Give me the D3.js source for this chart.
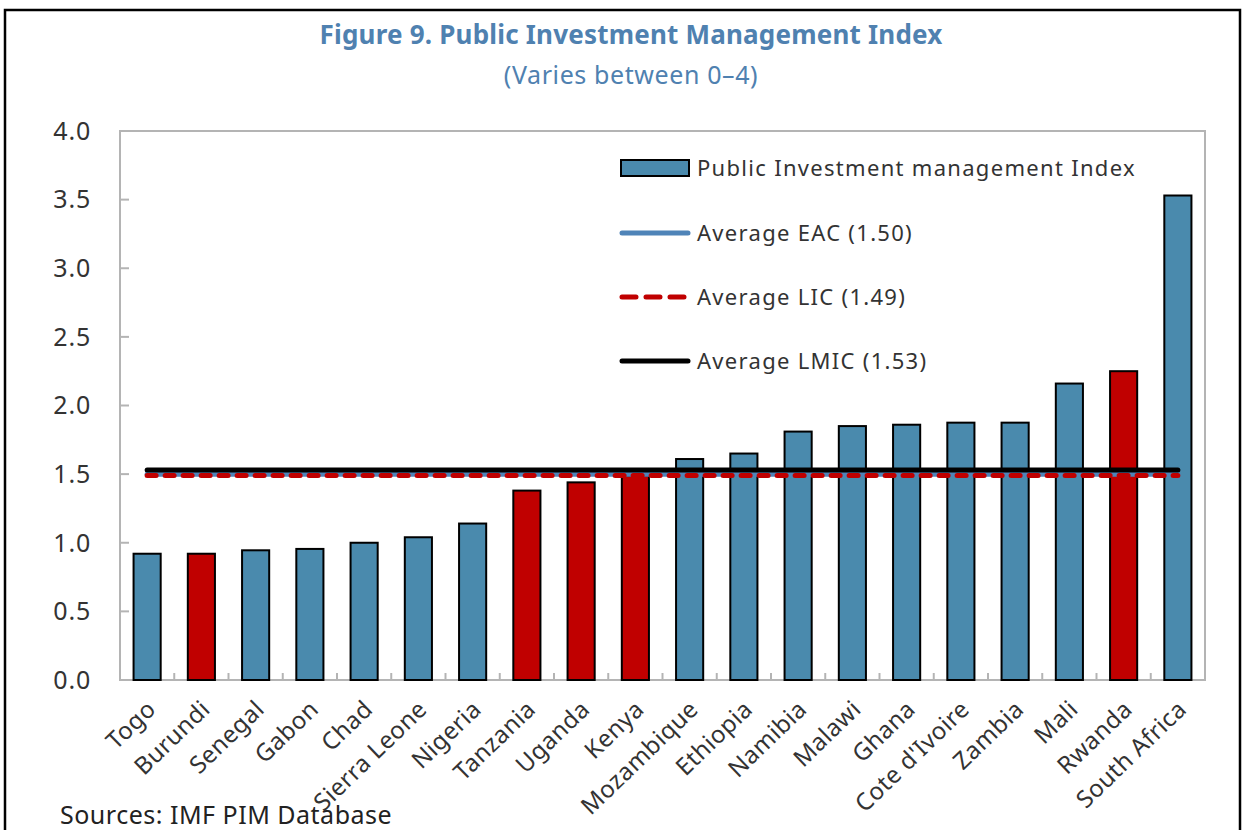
<!DOCTYPE html>
<html>
<head>
<meta charset="utf-8">
<script src="https://cdn.jsdelivr.net/npm/d3@7"></script>
<style>
  body { margin: 0; background: #fff; }
  svg { display: block; font-family: "Noto Sans", "Open Sans", sans-serif; }
</style>
</head>
<body>
<svg id="chart" width="1244" height="830"></svg>
<script>
const countries = ['Togo', 'Burundi', 'Senegal', 'Gabon', 'Chad', 'Sierra Leone', 'Nigeria',
  'Tanzania', 'Uganda', 'Kenya', 'Mozambique', 'Ethiopia', 'Namibia', 'Malawi', 'Ghana',
  "Cote d'Ivoire", 'Zambia', 'Mali', 'Rwanda', 'South Africa'];
const pimi = [0.92, 0.92, 0.945, 0.955, 1.0, 1.04, 1.14, 1.38, 1.44, 1.49, 1.61, 1.65,
  1.81, 1.85, 1.86, 1.875, 1.875, 2.16, 2.25, 3.53];
// EAC members are drawn in red
const eac = ['Burundi', 'Tanzania', 'Uganda', 'Kenya', 'Rwanda'];
const averages = [
  {name: 'Average EAC (1.50)', value: 1.50},
  {name: 'Average LIC (1.49)', value: 1.49},
  {name: 'Average LMIC (1.53)', value: 1.53},
];
const yTicks = [0, 0.5, 1, 1.5, 2, 2.5, 3, 3.5, 4];

const blue = '#4a8aad';
const red = '#c00000';
const titleBlue = '#4f81b0';

const svg = d3.select('#chart');
const plotLeft = 120, plotRight = 1205, plotTop = 131, plotBottom = 680;

// outer frame
svg.append('path')
  .attr('d', 'M5,832 V10 H1240 V832')
  .attr('fill', 'none')
  .attr('stroke', '#000')
  .attr('stroke-width', 2.5);

svg.append('text')
  .attr('x', 631).attr('y', 44)
  .attr('text-anchor', 'middle')
  .attr('font-size', 26).attr('font-weight', 'bold')
  .attr('letter-spacing', 0.2)
  .attr('fill', titleBlue)
  .text('Figure 9. Public Investment Management Index');

svg.append('text')
  .attr('x', 631).attr('y', 84)
  .attr('text-anchor', 'middle')
  .attr('font-size', 25)
  .attr('letter-spacing', 0.6)
  .attr('fill', titleBlue)
  .text('(Varies between 0\u20134)');

const x = d3.scaleBand().domain(countries).range([plotLeft, plotRight])
  .paddingInner(0.5).paddingOuter(0.25);
const y = d3.scaleLinear().domain([0, 4]).range([plotBottom, plotTop]);

// plot area border
svg.append('rect')
  .attr('x', plotLeft).attr('y', plotTop)
  .attr('width', plotRight - plotLeft).attr('height', plotBottom - plotTop)
  .attr('fill', 'none').attr('stroke', '#b4b4b4').attr('stroke-width', 2);

// y ticks (inside) + labels
svg.append('g').selectAll('line').data(yTicks).enter().append('line')
  .attr('x1', plotLeft).attr('x2', plotLeft + 9)
  .attr('y1', d => y(d)).attr('y2', d => y(d))
  .attr('stroke', '#b4b4b4').attr('stroke-width', 2);

svg.append('g').selectAll('text').data(yTicks).enter().append('text')
  .attr('x', 91).attr('y', d => y(d))
  .attr('dy', '0.35em')
  .attr('text-anchor', 'end')
  .attr('font-size', 25)
  .attr('letter-spacing', 0.8)
  .attr('fill', '#333')
  .text(d => d3.format('.1f')(d));

// x ticks at bar centres and category boundaries
const step = x.step();
const xTickPos = [];
countries.forEach((c, i) => {
  xTickPos.push(plotLeft + i * step);
  xTickPos.push(x(c) + x.bandwidth() / 2);
});
xTickPos.push(plotRight);
svg.append('g').selectAll('line').data(xTickPos).enter().append('line')
  .attr('x1', d => d).attr('x2', d => d)
  .attr('y1', plotBottom).attr('y2', plotBottom - 7)
  .attr('stroke', '#b4b4b4').attr('stroke-width', 2);

// bars
svg.append('g').selectAll('rect')
  .data(countries.map((c, i) => ({country: c, value: pimi[i]})))
  .enter().append('rect')
  .attr('x', d => x(d.country))
  .attr('y', d => y(d.value))
  .attr('width', x.bandwidth())
  .attr('height', d => plotBottom - y(d.value))
  .attr('fill', d => eac.includes(d.country) ? red : blue)
  .attr('stroke', '#000')
  .attr('stroke-width', 2);

// average lines from first to last bar centre
const x0 = x(countries[0]) + x.bandwidth() / 2;
const x1 = x(countries[countries.length - 1]) + x.bandwidth() / 2;
const lineStyles = [
  {color: '#4f84b8', dash: null},
  {color: red, dash: '9,9'},
  {color: '#000', dash: null},
];
averages.forEach((a, i) => {
  svg.append('line')
    .attr('x1', x0).attr('x2', x1)
    .attr('y1', y(a.value)).attr('y2', y(a.value))
    .attr('stroke', lineStyles[i].color)
    .attr('stroke-width', 5)
    .attr('stroke-linecap', 'round')
    .attr('stroke-dasharray', lineStyles[i].dash);
});

// x labels
svg.append('g').selectAll('text').data(countries).enter().append('text')
  .attr('transform', d => `translate(${x(d) + x.bandwidth() / 2 + 10},${plotBottom + 31}) rotate(-44)`)
  .attr('text-anchor', 'end')
  .attr('font-size', 24)
  .attr('letter-spacing', 0.4)
  .attr('fill', '#333')
  .text(d => d);

// legend
const legend = svg.append('g');
legend.append('rect')
  .attr('x', 621).attr('y', 160)
  .attr('width', 68).attr('height', 16)
  .attr('fill', blue).attr('stroke', '#000').attr('stroke-width', 2);
legend.append('text')
  .attr('x', 697).attr('y', 168).attr('dy', '0.35em')
  .attr('font-size', 22).attr('letter-spacing', 1.3).attr('fill', '#333')
  .text('Public Investment management Index');

averages.forEach((a, i) => {
  const ly = 233 + i * 64;
  legend.append('line')
    .attr('x1', 622).attr('x2', 688)
    .attr('y1', ly).attr('y2', ly)
    .attr('stroke', lineStyles[i].color)
    .attr('stroke-width', 5)
    .attr('stroke-linecap', 'round')
    .attr('stroke-dasharray', lineStyles[i].dash ? '14,10' : null);
  legend.append('text')
    .attr('x', 697).attr('y', ly).attr('dy', '0.35em')
    .attr('font-size', 22).attr('letter-spacing', 1.3).attr('fill', '#333')
    .text(a.name);
});

svg.append('text')
  .attr('x', 60).attr('y', 824)
  .attr('font-size', 25).attr('letter-spacing', 0.5).attr('fill', '#222')
  .text('Sources: IMF PIM Database');
</script>
</body>
</html>
